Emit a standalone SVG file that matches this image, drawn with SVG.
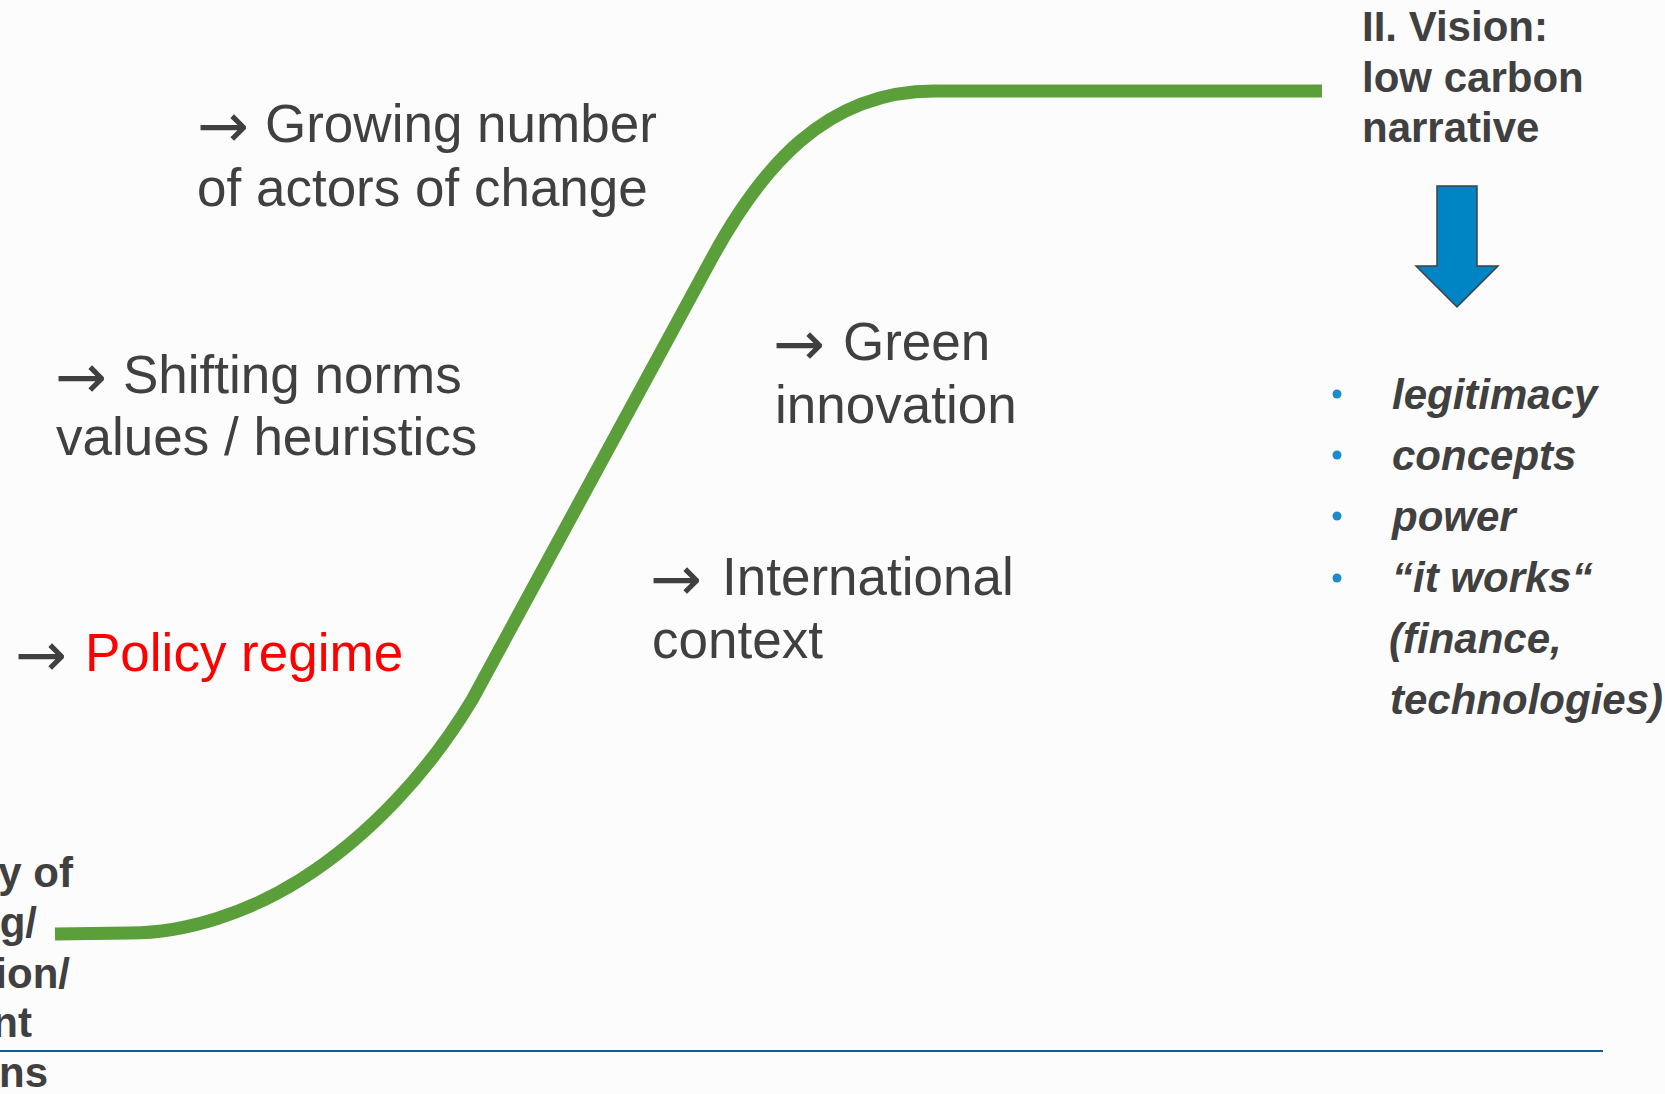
<svg xmlns="http://www.w3.org/2000/svg" width="1665" height="1094" viewBox="0 0 1665 1094">
  <style>
    .lbl { font-family: "Liberation Sans", Arial, sans-serif; font-size: 53px; fill: #404040; }
    .arr { font-family: "DejaVu Sans", sans-serif; font-size: 62px; fill: #404040; }
    .red { fill: #ff0000; }
    .bold { font-family: "Liberation Sans", Arial, sans-serif; font-size: 42px; font-weight: bold; fill: #404040; }
    .bi { font-family: "Liberation Sans", Arial, sans-serif; font-size: 42px; font-weight: bold; font-style: italic; fill: #404040; }
    .bullet { fill: #1e8bc8; }
  </style>
  <rect x="0" y="0" width="1665" height="1094" fill="#fcfcfc"/>

  <g id="connectors">
    <path id="s-curve" d="M55,934 L130,933 C187,933 249,912 300,880 C370,836 430,770 472,700 L712,258 C760,170 824,91 934,91 L1322,91" fill="none" stroke="#5a9f3a" stroke-width="13"/>
    <line id="baseline" x1="0" y1="1051" x2="1603" y2="1051" stroke="#135d8c" stroke-width="2.2"/>
  </g>

  <g id="left-label">
    <text class="bold" text-anchor="end" x="73" y="887">y of</text>
    <text class="bold" text-anchor="end" x="37" y="937">g/</text>
    <text class="bold" text-anchor="end" x="70" y="988">ion/</text>
    <text class="bold" text-anchor="end" x="32" y="1037">nt</text>
    <text class="bold" text-anchor="end" x="48" y="1087">ns</text>
  </g>

  <g id="policy-regime">
    <text class="lbl" x="15" y="671"><tspan class="arr" y="676">→</tspan><tspan class="red" x="85" y="671">Policy regime</tspan></text>
  </g>

  <g id="shifting-norms">
    <text class="lbl" x="55" y="393"><tspan class="arr" y="398">→</tspan><tspan x="123" y="393">Shifting norms</tspan></text>
    <text class="lbl" x="56" y="455">values / heuristics</text>
  </g>

  <g id="growing-actors">
    <text class="lbl" x="197" y="142"><tspan class="arr" y="147">→</tspan><tspan x="265" y="142">Growing number</tspan></text>
    <text class="lbl" x="197" y="206">of actors of change</text>
  </g>

  <g id="green-innovation">
    <text class="lbl" x="773" y="360"><tspan class="arr" y="365">→</tspan><tspan x="843" y="360">Green</tspan></text>
    <text class="lbl" x="775" y="423">innovation</text>
  </g>

  <g id="international-context">
    <text class="lbl" x="650" y="595"><tspan class="arr" y="600">→</tspan><tspan x="722" y="595">International</tspan></text>
    <text class="lbl" x="652" y="658">context</text>
  </g>

  <g id="vision">
    <text class="bold" x="1362" y="41">II. Vision:</text>
    <text class="bold" x="1362" y="92">low carbon</text>
    <text class="bold" x="1362" y="142">narrative</text>
  </g>

  <g id="down-arrow">
    <polygon points="1437,186 1477,186 1477,266 1498,266 1457,307 1416,266 1437,266" fill="#0085c4" stroke="#404040" stroke-width="1.5" stroke-linejoin="miter"/>
  </g>

  <g id="vision-list">
    <circle class="bullet" cx="1337" cy="394" r="4.5"/>
    <circle class="bullet" cx="1337" cy="455" r="4.5"/>
    <circle class="bullet" cx="1337" cy="516" r="4.5"/>
    <circle class="bullet" cx="1337" cy="578" r="4.5"/>
    <text class="bi" x="1392" y="409">legitimacy</text>
    <text class="bi" x="1392" y="470">concepts</text>
    <text class="bi" x="1392" y="531">power</text>
    <text class="bi" x="1392" y="592">“it works“</text>
    <text class="bi" x="1389" y="653">(finance,</text>
    <text class="bi" x="1390" y="714">technologies)</text>
  </g>
</svg>
